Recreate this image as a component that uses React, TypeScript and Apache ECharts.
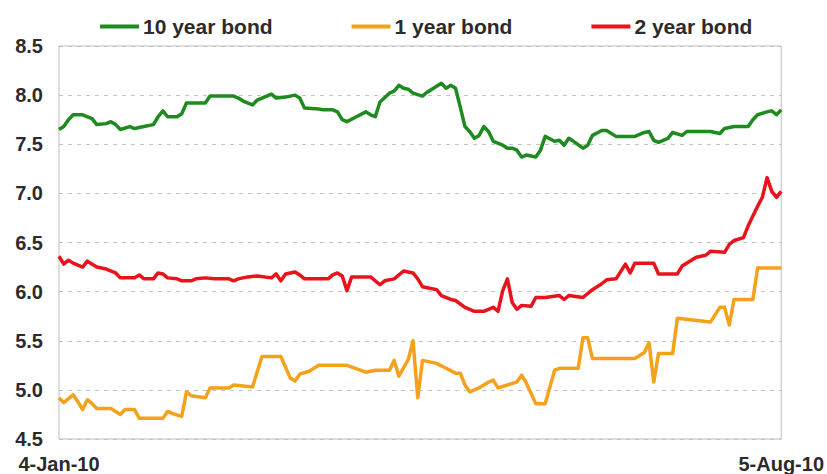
import React, { useEffect, useRef } from "react";
import * as echarts from "echarts";

// Trading days (weekdays) from 4-Jan-2010 to 5-Aug-2010
const MONTHS = ["Jan", "Feb", "Mar", "Apr", "May", "Jun", "Jul", "Aug", "Sep", "Oct", "Nov", "Dec"];
const START = Date.UTC(2010, 0, 4);
const END = Date.UTC(2010, 7, 5);
const tradingDays: string[] = [];
for (let t = START; t <= END; t += 86400000) {
  const d = new Date(t);
  const wd = d.getUTCDay();
  if (wd === 0 || wd === 6) continue;
  tradingDays.push(`${d.getUTCDate()}-${MONTHS[d.getUTCMonth()]}-10`);
}

const seriesNames = ["10 year bond", "1 year bond", "2 year bond"];
const seriesColors = ["#1f8a1f", "#f5a11c", "#e8131b"];

// [trading-day index, yield %]
const bond10y: [number, number][] = [
  [0, 7.65], [1, 7.68], [2, 7.75], [3, 7.8], [5, 7.8], [7, 7.76], [8, 7.7], [10, 7.71], [11, 7.73],
  [12, 7.7], [13, 7.65], [15, 7.68], [16, 7.66], [18, 7.68], [20, 7.7], [21, 7.78], [22, 7.84],
  [23, 7.78], [25, 7.78], [26, 7.81], [27, 7.92], [31, 7.92], [32, 7.99], [37, 7.99], [38, 7.97],
  [39, 7.94], [41, 7.9], [42, 7.95], [45, 8.01], [46, 7.97], [48, 7.98], [50, 8.0], [51, 7.97],
  [52, 7.87], [55, 7.86], [56, 7.85], [58, 7.85], [59, 7.83], [60, 7.75], [61, 7.73], [63, 7.78],
  [65, 7.83], [66, 7.8], [67, 7.78], [68, 7.93], [70, 8.02], [71, 8.04], [72, 8.1], [73, 8.07],
  [74, 8.06], [75, 8.02], [77, 7.99], [78, 8.03], [81, 8.12], [82, 8.07], [83, 8.1], [84, 8.07],
  [85, 7.88], [86, 7.68], [87, 7.63], [88, 7.56], [89, 7.59], [90, 7.68], [91, 7.63], [92, 7.53],
  [94, 7.49], [95, 7.46], [96, 7.46], [97, 7.44], [98, 7.37], [99, 7.39], [101, 7.37], [102, 7.44],
  [103, 7.58], [105, 7.53], [106, 7.54], [107, 7.49], [108, 7.56], [109, 7.53], [111, 7.46],
  [112, 7.49], [113, 7.59], [115, 7.64], [116, 7.64], [118, 7.58], [122, 7.58], [124, 7.62],
  [125, 7.63], [126, 7.54], [127, 7.52], [129, 7.56], [130, 7.62], [132, 7.59], [133, 7.63],
  [138, 7.63], [140, 7.61], [141, 7.66], [143, 7.68], [146, 7.68], [147, 7.75], [148, 7.8],
  [150, 7.83], [151, 7.84], [152, 7.8], [153, 7.85],
];

const bond1y: [number, number][] = [
  [0, 4.92], [1, 4.87], [3, 4.95], [4, 4.88], [5, 4.8], [6, 4.9], [7, 4.86], [8, 4.81], [11, 4.81],
  [13, 4.75], [14, 4.8], [16, 4.8], [17, 4.71], [22, 4.71], [23, 4.78], [24, 4.76], [26, 4.73],
  [27, 4.98], [28, 4.94], [31, 4.92], [32, 5.02], [36, 5.02], [37, 5.05], [39, 5.04], [41, 5.03],
  [43, 5.34], [47, 5.34], [49, 5.12], [50, 5.09], [51, 5.16], [53, 5.19], [55, 5.25], [61, 5.25],
  [65, 5.18], [67, 5.2], [70, 5.2], [71, 5.3], [72, 5.14], [74, 5.31], [75, 5.5], [76, 4.92],
  [77, 5.3], [78, 5.29], [80, 5.27], [82, 5.22], [84, 5.17], [85, 5.17], [86, 5.05], [87, 4.98],
  [89, 5.02], [91, 5.08], [92, 5.1], [93, 5.02], [95, 5.05], [97, 5.08], [98, 5.15], [99, 5.07],
  [101, 4.86], [103, 4.86], [105, 5.2], [106, 5.22], [110, 5.22], [111, 5.53], [112, 5.53],
  [113, 5.32], [122, 5.32], [124, 5.38], [125, 5.48], [126, 5.08], [127, 5.37], [130, 5.37],
  [131, 5.73], [138, 5.69], [140, 5.84], [141, 5.84], [142, 5.66], [143, 5.92], [147, 5.92],
  [148, 6.24], [153, 6.24],
];

const bond2y: [number, number][] = [
  [0, 6.36], [1, 6.28], [2, 6.32], [3, 6.29], [5, 6.25], [6, 6.31], [8, 6.25], [10, 6.23], [12, 6.19],
  [13, 6.14], [16, 6.14], [17, 6.17], [18, 6.13], [20, 6.13], [21, 6.19], [22, 6.18], [23, 6.14],
  [25, 6.13], [26, 6.11], [28, 6.11], [29, 6.13], [31, 6.14], [33, 6.13], [36, 6.13], [37, 6.11],
  [38, 6.13], [39, 6.14], [40, 6.15], [42, 6.16], [45, 6.14], [46, 6.18], [47, 6.11], [48, 6.18],
  [50, 6.2], [51, 6.17], [52, 6.13], [57, 6.13], [58, 6.17], [59, 6.19], [60, 6.16], [61, 6.01],
  [62, 6.15], [66, 6.15], [68, 6.07], [69, 6.11], [71, 6.13], [73, 6.21], [74, 6.2], [75, 6.19],
  [76, 6.13], [77, 6.05], [78, 6.04], [80, 6.02], [81, 5.96], [83, 5.92], [84, 5.91], [86, 5.84],
  [88, 5.8], [90, 5.8], [92, 5.84], [93, 5.8], [94, 6.01], [95, 6.13], [96, 5.89], [97, 5.82],
  [98, 5.86], [100, 5.85], [101, 5.94], [103, 5.94], [106, 5.96], [107, 5.92], [108, 5.96],
  [111, 5.94], [113, 6.02], [115, 6.08], [116, 6.12], [118, 6.13], [120, 6.28], [121, 6.19],
  [122, 6.29], [126, 6.29], [127, 6.18], [131, 6.18], [132, 6.26], [135, 6.35], [137, 6.37],
  [138, 6.41], [141, 6.4], [142, 6.48], [143, 6.52], [145, 6.55], [146, 6.67], [148, 6.87],
  [149, 6.96], [150, 7.16], [151, 7.02], [152, 6.96], [153, 7.02],
];

const seriesData = [bond10y, bond1y, bond2y];

const FONT = "'Liberation Sans', Arial, Helvetica, sans-serif";
const TEXT_COLOR = "#2b2b2b";

export default function App() {
  const ref = useRef<HTMLDivElement>(null);

  useEffect(() => {
    if (!ref.current) return;
    const chart = echarts.init(ref.current, undefined, { renderer: "svg" });
    const last = tradingDays.length - 1;
    chart.setOption({
      animation: false,
      backgroundColor: "#ffffff",
      legend: {
        top: 11,
        left: 95,
        icon: "rect",
        itemWidth: 39,
        itemHeight: 4,
        itemGap: 79,
        data: seriesNames,
        textStyle: {
          fontFamily: FONT,
          fontSize: 21,
          fontWeight: "bold",
          color: TEXT_COLOR,
          padding: [0, 0, 0, -1],
        },
      },
      grid: {
        left: 59,
        right: 40,
        top: 46,
        bottom: 35,
        show: true,
        borderColor: "#bdbdbd",
        borderWidth: 1,
      },
      xAxis: {
        type: "category",
        data: tradingDays,
        boundaryGap: false,
        axisLine: { show: false },
        axisTick: { show: false },
        splitLine: { show: false },
        axisLabel: {
          interval: (i: number) => i === 0 || i === last,
          margin: 15,
          fontFamily: FONT,
          fontSize: 20,
          fontWeight: "bold",
          color: TEXT_COLOR,
        },
      },
      yAxis: {
        type: "value",
        min: 4.5,
        max: 8.5,
        interval: 0.5,
        axisLine: { show: false },
        axisTick: { show: false },
        splitLine: {
          show: true,
          lineStyle: { color: "#c4c4c4", type: [4, 5], width: 1 },
        },
        axisLabel: {
          margin: 16,
          formatter: (v: number) => v.toFixed(1),
          fontFamily: FONT,
          fontSize: 20,
          fontWeight: "bold",
          color: TEXT_COLOR,
        },
      },
      series: seriesNames.map((name, i) => ({
        name,
        type: "line",
        data: seriesData[i],
        showSymbol: false,
        symbol: "none",
        color: seriesColors[i],
        lineStyle: { width: 3.5, color: seriesColors[i], join: "round" },
      })),
    });
    return () => chart.dispose();
  }, []);

  return (
    <div
      ref={ref}
      style={{ position: "fixed", left: 0, top: 0, width: 827, height: 474, background: "#fff" }}
    />
  );
}
